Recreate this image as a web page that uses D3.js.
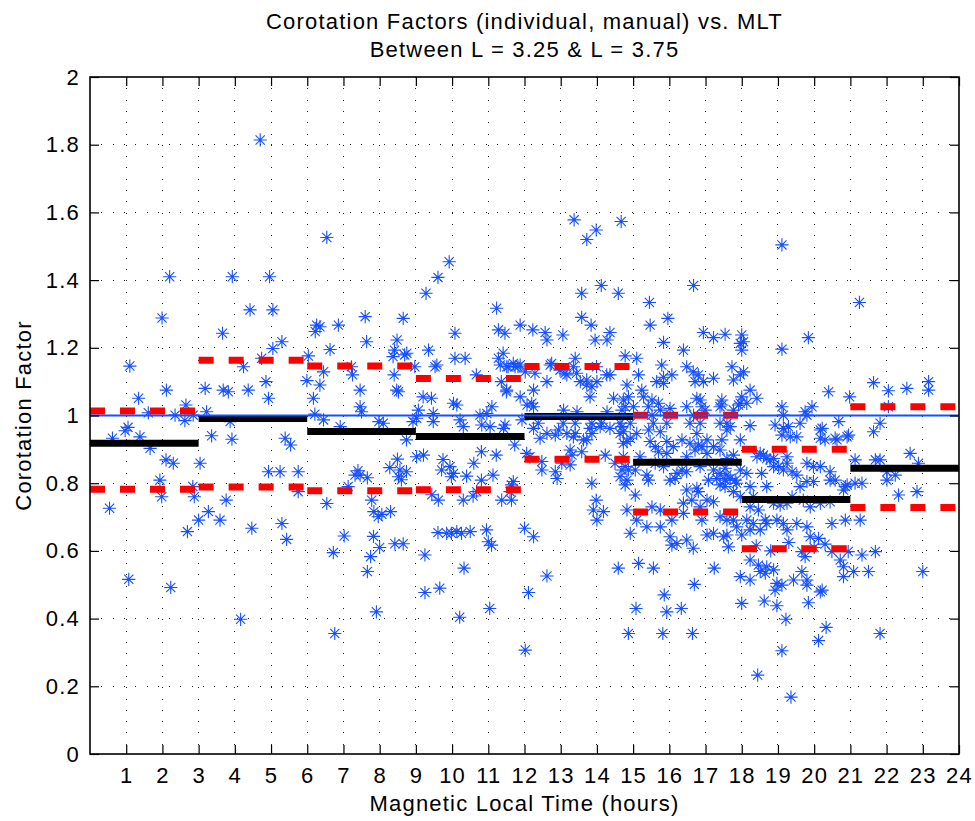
<!DOCTYPE html>
<html><head><meta charset="utf-8">
<script src="https://cdn.jsdelivr.net/npm/d3@7/dist/d3.min.js"></script>
<style>
body{margin:0;background:#fff}
text{font-family:"Liberation Sans",Arial,Helvetica,sans-serif;fill:#000}
</style></head>
<body><svg id="chart" width="975" height="821"></svg>
<script>
// ---------- data ----------
const titleLines = ["Corotation Factors (individual, manual) vs. MLT", "Between L = 3.25 & L = 3.75"];
const xLabel = "Magnetic Local Time (hours)";
const yLabel = "Corotation Factor";
const xTickValues = d3.range(1, 25);
const yTickValues = [0, 0.2, 0.4, 0.6, 0.8, 1, 1.2, 1.4, 1.6, 1.8, 2];

const binStart = [0, 3, 6, 9, 12, 15, 18, 21];
const binMean  = [0.918, 0.991, 0.953, 0.938, 0.997, 0.862, 0.752, 0.844];
const binUpper = [1.013, 1.163, 1.146, 1.109, 1.145, 1.001, 0.900, 1.026];
const binLower = [0.782, 0.789, 0.778, 0.781, 0.871, 0.715, 0.606, 0.728];
const referenceLevel = 1;

// individual measurements [MLT, corotation factor]
const pts00_03 = [[0.54,0.726],[0.62,0.933],[0.97,0.955],[1.05,0.965],[1.07,0.516],[1.10,1.146],[1.34,1.051],[1.38,0.937],[1.61,1.008],[1.66,0.903],[1.93,0.809],[1.98,0.760],[1.99,1.288],[2.10,0.869],[2.11,1.075],[2.20,1.410],[2.23,0.492],[2.30,0.859],[2.35,1.001],[2.62,0.985],[2.65,1.031],[2.69,0.657],[2.85,1.001],[2.84,0.790],[2.88,0.760]];
const pts03_06 = [[3.04,0.859],[3.00,0.691],[3.18,1.080],[3.22,1.011],[3.27,0.716],[3.36,0.940],[3.59,0.691],[3.66,1.243],[3.68,1.075],[3.76,0.750],[3.82,1.070],[3.87,0.982],[3.92,0.930],[3.93,1.410],[4.16,0.398],[4.24,1.144],[4.37,1.075],[4.42,1.312],[4.47,0.667],[4.70,1.814],[4.74,1.169],[4.86,1.100],[4.93,1.051],[4.93,0.834],[4.96,1.410],[5.05,1.312],[5.05,1.198],[5.25,0.834],[5.30,1.218],[5.30,0.681],[5.39,0.933],[5.43,0.634],[5.54,0.913],[5.75,0.834],[5.75,0.775],[5.99,1.103]];
const pts06_09 = [[6.03,1.176],[6.17,1.051],[6.21,1.004],[6.22,1.248],[6.26,1.267],[6.35,1.262],[6.35,1.090],[6.45,1.129],[6.45,0.987],[6.54,1.526],[6.54,0.740],[6.63,1.195],[6.72,0.595],[6.76,0.356],[6.86,1.267],[6.91,0.967],[7.02,0.644],[7.13,0.790],[7.22,1.144],[7.25,1.120],[7.32,0.824],[7.40,0.837],[7.46,0.824],[7.46,1.075],[7.46,1.026],[7.50,1.011],[7.60,1.292],[7.64,1.218],[7.66,0.816],[7.66,0.539],[7.75,0.583],[7.78,0.750],[7.84,0.716],[7.83,0.643],[7.91,0.420],[7.96,0.701],[7.98,0.982],[8.00,0.610],[8.06,0.708],[8.10,0.977],[8.28,0.846],[8.30,0.716],[8.37,1.174],[8.41,1.193],[8.40,1.120],[8.42,0.621],[8.47,1.075],[8.48,1.223],[8.49,0.871],[8.52,1.070],[8.52,0.819],[8.56,0.839],[8.60,0.810],[8.65,1.287],[8.65,0.621],[8.69,1.179],[8.74,0.834],[8.74,0.928],[8.75,1.184],[8.92,0.982],[8.97,1.144]];
const pts09_12 = [[9.02,0.878],[9.21,0.883],[9.20,1.055],[9.07,1.016],[9.02,0.992],[9.28,1.361],[9.35,1.193],[9.43,1.051],[9.44,0.766],[9.48,1.006],[9.48,0.982],[9.53,1.144],[9.58,1.149],[9.61,1.408],[9.61,0.654],[9.62,0.750],[9.66,0.490],[9.25,0.588],[9.25,0.477],[9.71,0.839],[9.75,0.870],[9.85,0.652],[9.92,1.454],[9.94,0.849],[9.98,0.819],[9.98,0.652],[10.04,0.829],[10.04,1.036],[10.08,1.243],[10.08,1.169],[10.13,1.031],[10.13,0.657],[10.21,0.404],[10.22,0.987],[10.26,0.652],[10.31,0.967],[10.31,0.750],[10.33,0.549],[10.36,1.169],[10.40,0.821],[10.50,0.657],[10.58,0.762],[10.60,0.859],[10.67,1.120],[10.68,0.775],[10.77,1.001],[10.81,0.893],[10.81,0.809],[10.82,0.972],[10.95,0.662],[10.96,1.006],[11.00,0.627],[11.04,0.430],[11.05,0.967],[11.09,0.617],[11.10,1.026],[11.13,0.824],[11.22,0.883],[11.23,1.317],[11.28,1.253],[11.28,1.169],[11.33,1.149],[11.36,1.100],[11.37,0.750],[11.41,1.184],[11.42,0.962],[11.46,1.243],[11.46,0.972],[11.50,1.070],[11.51,1.144],[11.51,1.075],[11.55,1.144],[11.60,0.775],[11.64,0.750],[11.64,0.795],[11.69,0.805],[11.69,1.154],[11.73,0.913],[11.74,1.144],[11.82,1.144],[11.88,1.267],[11.88,1.149],[11.88,1.055],[11.93,0.987]];
const pts12_15 = [[12.02,0.307],[12.11,0.477],[12.00,0.667],[12.25,0.642],[12.62,0.526],[12.02,1.129],[12.07,1.031],[12.06,0.888],[12.15,0.878],[12.20,1.036],[12.23,1.253],[12.25,1.075],[12.25,1.026],[12.25,0.962],[12.29,1.125],[12.38,0.977],[12.43,0.933],[12.48,0.864],[12.48,0.839],[12.57,1.245],[12.62,1.223],[12.62,1.100],[12.62,0.947],[12.71,1.149],[12.75,1.154],[12.85,0.942],[12.85,0.834],[12.90,0.814],[12.94,0.957],[12.98,1.134],[13.03,0.859],[13.06,1.238],[13.07,0.977],[13.08,1.016],[13.12,1.125],[13.17,1.120],[13.17,0.947],[13.26,0.898],[13.26,0.854],[13.31,0.883],[13.35,1.144],[13.35,0.937],[13.37,1.578],[13.40,1.169],[13.40,0.977],[13.40,0.947],[13.44,1.125],[13.45,1.011],[13.54,1.100],[13.58,1.361],[13.58,1.290],[13.58,0.893],[13.63,0.928],[13.72,1.520],[13.72,1.105],[13.72,1.090],[13.72,0.928],[13.81,1.055],[13.81,0.962],[13.84,1.267],[13.86,1.085],[13.86,0.977],[13.86,0.947],[13.86,0.800],[13.90,0.721],[13.95,1.223],[13.98,1.548],[13.98,0.750],[13.99,1.144],[14.00,1.100],[14.00,0.691],[14.09,0.967],[14.12,1.384],[14.13,0.977],[14.18,0.716],[14.23,0.883],[14.27,1.120],[14.28,1.011],[14.28,1.223],[14.36,1.245],[14.36,1.120],[14.36,0.962],[14.46,1.051],[14.50,0.859],[14.59,1.361],[14.59,0.549],[14.64,0.977],[14.64,0.947],[14.64,0.819],[14.67,1.573],[14.69,1.016],[14.69,0.967],[14.69,0.839],[14.73,1.046],[14.73,0.952],[14.73,0.918],[14.73,0.878],[14.78,1.176],[14.78,1.026],[14.78,0.849],[14.78,0.795],[14.83,1.090],[14.83,0.923],[14.83,0.809],[14.83,0.721],[14.87,1.055],[14.87,0.839],[14.87,0.356],[14.92,0.977],[14.92,0.933],[14.92,0.652]];
const pts15_18 = [[15.01,1.026],[15.06,0.839],[15.06,0.765],[15.08,0.430],[15.10,1.169],[15.10,0.947],[15.10,0.691],[15.15,1.120],[15.15,0.563],[15.19,0.878],[15.24,1.075],[15.29,1.055],[15.38,0.824],[15.38,0.671],[15.42,1.026],[15.42,0.809],[15.43,0.957],[15.45,1.334],[15.47,1.267],[15.47,0.923],[15.52,1.001],[15.52,1.046],[15.52,0.730],[15.56,0.977],[15.56,0.549],[15.61,0.908],[15.61,0.859],[15.65,1.100],[15.70,1.036],[15.70,0.893],[15.75,1.016],[15.75,0.952],[15.75,0.721],[15.75,0.671],[15.79,1.149],[15.82,0.356],[15.84,1.216],[15.84,1.113],[15.84,1.095],[15.84,0.849],[15.86,0.470],[15.93,0.977],[15.93,0.923],[15.93,0.888],[15.93,0.420],[15.96,1.287],[16.02,1.021],[16.02,0.809],[16.02,0.642],[16.07,1.120],[16.07,0.691],[16.07,0.617],[16.11,0.908],[16.16,0.814],[16.21,0.829],[16.21,0.622],[16.33,0.430],[16.35,0.928],[16.35,0.839],[16.39,1.193],[16.39,0.741],[16.39,0.711],[16.48,1.144],[16.48,1.026],[16.48,0.878],[16.48,0.834],[16.48,0.780],[16.48,0.632],[16.57,0.977],[16.57,0.918],[16.62,0.750],[16.64,0.356],[16.66,1.129],[16.66,0.608],[16.67,1.384],[16.67,1.001],[16.69,0.501],[16.71,1.100],[16.71,0.898],[16.76,1.051],[16.76,0.947],[16.76,0.785],[16.80,1.120],[16.80,0.913],[16.80,0.775],[16.85,1.046],[16.85,0.977],[16.85,0.849],[16.85,0.730],[16.90,1.026],[16.90,0.908],[16.90,0.691],[16.94,1.245],[16.94,1.100],[16.99,1.016],[17.04,0.928],[17.04,0.888],[17.04,0.750],[17.04,0.647],[17.08,0.809],[17.22,1.230],[17.22,1.110],[17.22,0.908],[17.22,0.839],[17.22,0.745],[17.22,0.652],[17.24,0.549],[17.31,0.814],[17.40,1.026],[17.40,0.977],[17.40,0.898],[17.40,0.829],[17.40,0.795],[17.40,0.701],[17.45,1.046],[17.45,1.031],[17.45,0.928],[17.50,0.642],[17.54,1.240],[17.54,0.790],[17.54,0.844],[17.54,0.809],[17.59,0.977],[17.59,0.957],[17.59,0.873],[17.59,0.824],[17.59,0.691],[17.59,0.647],[17.63,0.612],[17.68,0.967],[17.68,0.814],[17.73,1.144],[17.77,1.105],[17.77,1.016],[17.77,0.883],[17.77,0.775],[17.77,0.691],[17.82,0.809],[17.86,0.800],[17.86,0.671],[17.91,1.031],[17.96,1.213],[17.96,1.120],[17.96,1.036],[17.96,0.928],[17.96,0.839],[17.96,0.760],[17.96,0.524]];
const pts18_21 = [[18.00,1.238],[18.05,1.218],[18.00,1.193],[18.05,1.129],[18.00,1.055],[18.14,1.036],[18.23,1.075],[18.42,1.051],[18.23,0.970],[19.11,1.504],[19.11,1.196],[19.84,1.230],[19.11,1.026],[19.15,1.001],[19.75,1.011],[19.94,1.026],[20.40,1.070],[20.98,1.055],[18.92,0.972],[19.15,0.962],[19.29,0.967],[19.61,0.977],[19.80,1.001],[20.17,0.957],[20.22,0.962],[20.68,0.982],[20.58,0.933],[20.91,0.937],[20.95,0.942],[19.52,0.937],[19.34,0.937],[19.11,0.942],[20.17,0.933],[20.30,0.928],[20.63,0.928],[18.51,0.888],[18.69,0.873],[18.42,0.878],[18.60,0.883],[18.78,0.869],[18.88,0.873],[19.02,0.849],[19.25,0.878],[19.39,0.834],[19.52,0.824],[19.98,0.849],[20.17,0.849],[20.44,0.834],[20.44,0.809],[19.98,0.805],[19.80,0.805],[19.61,0.790],[20.91,0.795],[18.14,0.829],[18.23,0.790],[18.32,0.760],[18.55,0.829],[18.69,0.790],[18.88,0.849],[19.15,0.839],[19.25,0.859],[19.80,0.859],[20.58,0.809],[20.86,0.790],[18.23,0.730],[18.46,0.721],[18.65,0.691],[18.88,0.741],[19.06,0.735],[19.25,0.741],[19.39,0.760],[19.70,0.750],[19.89,0.730],[20.17,0.741],[20.44,0.745],[20.81,0.780],[18.00,0.647],[18.14,0.691],[18.32,0.681],[18.51,0.662],[18.69,0.681],[18.97,0.691],[19.15,0.681],[19.25,0.662],[19.52,0.681],[19.80,0.671],[19.89,0.642],[20.12,0.637],[20.49,0.681],[18.23,0.662],[18.40,0.615],[18.80,0.600],[19.30,0.625],[20.00,0.610],[20.30,0.620],[19.66,0.598],[19.75,0.583],[20.49,0.598],[20.72,0.573],[20.81,0.553],[20.94,0.598],[20.86,0.691],[20.81,0.524],[18.23,0.514],[18.51,0.539],[18.65,0.534],[18.88,0.544],[18.23,0.573],[18.46,0.558],[18.69,0.553],[18.97,0.504],[19.11,0.499],[18.92,0.484],[19.43,0.514],[19.66,0.539],[19.80,0.514],[19.80,0.499],[20.17,0.479],[20.22,0.484],[18.00,0.445],[18.62,0.452],[18.97,0.438],[19.22,0.398],[19.84,0.447],[20.33,0.374],[20.12,0.335],[19.11,0.305],[18.44,0.233],[19.36,0.168]];
const pts21_24 = [[21.25,1.334],[21.64,1.097],[22.05,1.073],[22.56,1.080],[23.16,1.100],[23.16,1.075],[22.05,1.026],[21.82,0.977],[21.64,0.952],[21.13,0.869],[21.69,0.869],[21.82,0.869],[22.01,0.834],[22.01,0.809],[22.24,0.824],[22.65,0.888],[22.88,0.859],[22.33,0.765],[22.84,0.775],[21.13,0.800],[21.32,0.800],[21.27,0.691],[21.69,0.598],[21.32,0.588],[21.50,0.539],[21.09,0.539],[21.82,0.356],[23.00,0.539]];

const allPoints = [].concat(pts00_03, pts03_06, pts06_09, pts09_12, pts12_15, pts15_18, pts18_21, pts21_24);

// ---------- drawing ----------
const W = 975, H = 821;
const plot = {left: 90, right: 959, top: 77, bottom: 754};
const blue = "#1650ff";
const x = d3.scaleLinear().domain([0, 24]).range([plot.left, plot.right]);
const y = d3.scaleLinear().domain([0, 2]).range([plot.bottom, plot.top]);
const svg = d3.select("#chart");
svg.append("rect").attr("width", W).attr("height", H).attr("fill", "#fff");

// dotted grid
const grid = svg.append("g").attr("stroke", "#222").attr("stroke-width", 1)
  .attr("stroke-dasharray", "1,10.3").attr("shape-rendering", "crispEdges");
grid.selectAll(".gx").data(xTickValues.filter(v => v < 24)).join("line")
  .attr("x1", d => x(d)).attr("x2", d => x(d)).attr("y1", plot.top).attr("y2", plot.bottom);
grid.selectAll(".gy").data(yTickValues.filter(v => v > 0 && v < 2)).join("line")
  .attr("y1", d => y(d)).attr("y2", d => y(d)).attr("x1", plot.left).attr("x2", plot.right);

// asterisk markers
const r = 6.6, q = 4.6;
const star = `M${-r},0H${r}M0,${-r}V${r}M${-q},${-q}L${q},${q}M${-q},${q}L${q},${-q}`;
svg.append("g").attr("stroke", blue).attr("stroke-width", 1.1).attr("fill", "none")
  .selectAll("path").data(allPoints).join("path")
  .attr("d", star).attr("transform", d => `translate(${x(d[0])},${y(d[1])})`);

// bin means (black) and spread (red dashed)
svg.append("g").selectAll("line").data(binStart).join("line")
  .attr("x1", d => x(d)).attr("x2", d => x(d + 3))
  .attr("y1", (d, i) => y(binMean[i])).attr("y2", (d, i) => y(binMean[i]))
  .attr("stroke", "#000").attr("stroke-width", 7);
const dashG = svg.append("g").attr("stroke", "#ff0000").attr("stroke-width", 7).attr("stroke-dasharray", "15,15");
[binUpper, binLower].forEach(arr => {
  dashG.append("g").selectAll("line").data(binStart).join("line")
    .attr("x1", d => x(d)).attr("x2", d => x(d + 3))
    .attr("y1", (d, i) => y(arr[i])).attr("y2", (d, i) => y(arr[i]));
});

// reference line
svg.append("line").attr("x1", x(0)).attr("x2", x(24))
  .attr("y1", y(referenceLevel)).attr("y2", y(referenceLevel))
  .attr("stroke", blue).attr("stroke-width", 2.2);

// axes (ticks inside on all sides)
const tl = 9;
const fontSize = 22, ls = "1.2px";
const axB = svg.append("g").attr("transform", `translate(0,${plot.bottom})`)
  .call(d3.axisBottom(x).tickValues(xTickValues).tickSizeInner(-tl).tickSizeOuter(0).tickPadding(14).tickFormat(d3.format("d")));
const axT = svg.append("g").attr("transform", `translate(0,${plot.top})`)
  .call(d3.axisTop(x).tickValues(xTickValues).tickSizeInner(-tl).tickSizeOuter(0).tickFormat(""));
const axL = svg.append("g").attr("transform", `translate(${plot.left},0)`)
  .call(d3.axisLeft(y).tickValues(yTickValues).tickSizeInner(-tl).tickSizeOuter(0).tickPadding(10).tickFormat(d => d3.format("~g")(d)));
const axR = svg.append("g").attr("transform", `translate(${plot.right},0)`)
  .call(d3.axisRight(y).tickValues(yTickValues).tickSizeInner(-tl).tickSizeOuter(0).tickFormat(""));
[axB, axT, axL, axR].forEach(a => {
  a.select(".domain").remove();
  a.selectAll(".tick line").attr("stroke", "#000").attr("stroke-width", 1.2);
  a.selectAll("text").attr("font-size", fontSize).attr("letter-spacing", ls)
    .attr("font-family", '"Liberation Sans",Arial,sans-serif').attr("fill", "#000");
});
axB.selectAll(".tick text").attr("dy", "0.68em");
svg.append("rect").attr("x", plot.left).attr("y", plot.top)
  .attr("width", plot.right - plot.left).attr("height", plot.bottom - plot.top)
  .attr("fill", "none").attr("stroke", "#000").attr("stroke-width", 1.6);

// labels
svg.selectAll(".title").data(titleLines).join("text")
  .attr("x", (plot.left + plot.right) / 2).attr("y", (d, i) => 29 + i * 28)
  .attr("text-anchor", "middle").attr("font-size", fontSize).attr("letter-spacing", ls).text(d => d);
svg.append("text").attr("x", (plot.left + plot.right) / 2).attr("y", 811)
  .attr("text-anchor", "middle").attr("font-size", fontSize).attr("letter-spacing", ls).text(xLabel);
svg.append("text").attr("transform", `translate(31,${(plot.top + plot.bottom) / 2}) rotate(-90)`)
  .attr("text-anchor", "middle").attr("font-size", fontSize).attr("letter-spacing", ls).text(yLabel);
</script></body></html>
